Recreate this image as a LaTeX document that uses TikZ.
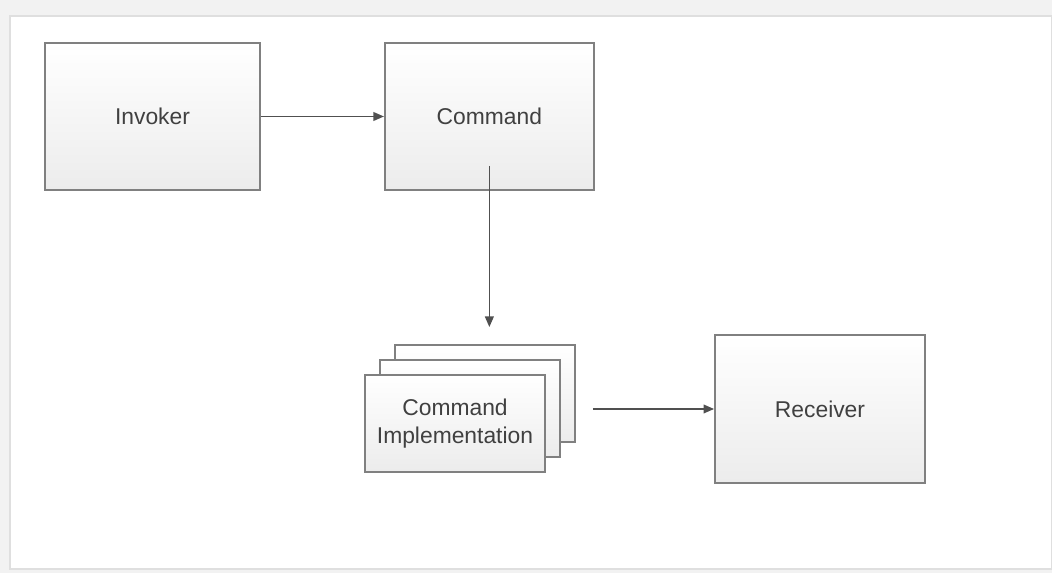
\documentclass[tikz,border=0pt]{standalone}
\usepackage{fontspec}
\setmainfont{Liberation Sans}
\usetikzlibrary{arrows.meta,positioning}
\definecolor{BoxLine}{RGB}{128,128,128}
\definecolor{BoxText}{RGB}{64,64,64}
\definecolor{PanelGrey}{RGB}{242,242,242}
\definecolor{ArrowGrey}{RGB}{80,80,80}

\begin{document}
\begin{tikzpicture}[
    x=0.02cm, y=-0.02cm,
    block/.style = {rectangle, draw=BoxLine, line width=1.1pt,
                    top color=white, bottom color=gray!15,
                    font=\fontsize{13}{15.5}\selectfont,
                    text=BoxText, align=center},
    card/.style  = {block, minimum width=3.6cm, minimum height=1.94cm},
    arr/.style   = {-{Triangle[length=6pt,width=5pt]},
                    line width=0.8pt, ArrowGrey},
]

% ─── Page and panel ──────────────────────────────────────────────────────
\useasboundingbox (0,0) rectangle (1052,573);
\fill[PanelGrey] (0,0) rectangle (1052,573);
\filldraw[fill=white, draw=gray!25, line width=1pt] (10,16) rectangle (1052,569);

% ─── Invoker and Command ─────────────────────────────────────────────────
\node[block, minimum width=4.3cm, minimum height=2.94cm] (invoker)
    at (152.5,116.5) {Invoker};

\node[block, minimum width=4.18cm, minimum height=2.94cm,
      right=2.46cm of invoker] (command)
    {Command};
\draw[arr] (invoker.east) -- (command.west);

% ─── Command implementation stack ────────────────────────────────────────
\node[card] (impl3) at (485,393.5) {};
\node[card] (impl2) at (470,408.5) {};
\node[card] (impl)  at (455,423.5)
    {Command\\Implementation};
\draw[arr, shorten <=-0.5cm, shorten >=0.34cm]
    (command.south) -- (command.south |- impl3.north);

% ─── Receiver ────────────────────────────────────────────────────────────
\node[block, minimum width=4.2cm, minimum height=2.96cm] (receiver)
    at (820,409) {Receiver};
\draw[arr, shorten <=0.34cm] (impl3.east |- receiver.west) -- (receiver.west);

\end{tikzpicture}
\end{document}
